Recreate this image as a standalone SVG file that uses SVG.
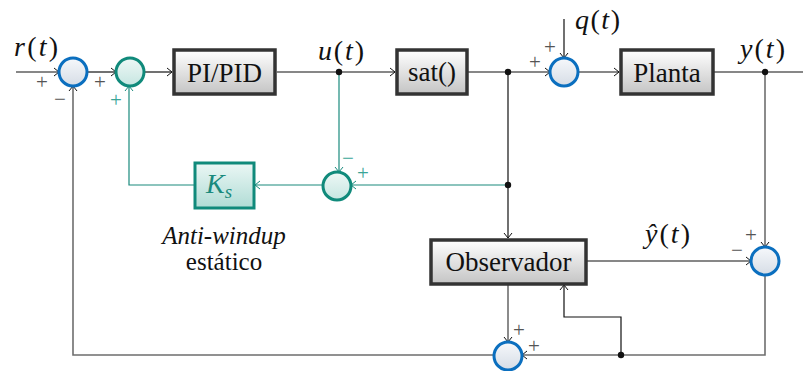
<svg xmlns="http://www.w3.org/2000/svg" width="803" height="371" viewBox="0 0 803 371" font-family="'Liberation Serif', serif">
<defs>
<linearGradient id="gb" x1="0" y1="0" x2="0" y2="1"><stop offset="0" stop-color="#ffffff"/><stop offset="1" stop-color="#c4c4c4"/></linearGradient>
<linearGradient id="gs" x1="0" y1="0" x2="0" y2="1"><stop offset="0" stop-color="#f6f8fb"/><stop offset="1" stop-color="#d6dde6"/></linearGradient>
<linearGradient id="gt" x1="0" y1="0" x2="0" y2="1"><stop offset="0" stop-color="#eef8f6"/><stop offset="1" stop-color="#c6e6e1"/></linearGradient>
<linearGradient id="gk" x1="0" y1="0" x2="0" y2="1"><stop offset="0" stop-color="#ebf7f5"/><stop offset="1" stop-color="#b0dcd5"/></linearGradient>
<marker id="a" markerWidth="8" markerHeight="10" refX="6" refY="5" orient="auto" markerUnits="userSpaceOnUse"><path d="M1,1 L6,5 L1,9" fill="none" stroke="#111" stroke-width="1"/></marker>
<marker id="at" markerWidth="8" markerHeight="10" refX="6" refY="5" orient="auto" markerUnits="userSpaceOnUse"><path d="M1,1 L6,5 L1,9" fill="none" stroke="#1a8a7d" stroke-width="1"/></marker>
</defs>
<style>
.ln{fill:none;stroke:#111;stroke-width:1.2}
.lg{fill:none;stroke:#6e6e6e;stroke-width:1.6}
.lt{fill:none;stroke:#1a8a7d;stroke-width:1.2}
.box{fill:url(#gb);stroke:#333;stroke-width:3.5}
.kbox{fill:url(#gk);stroke:#108a7b;stroke-width:3}
.sb{fill:url(#gs);stroke:#0b6fbf;stroke-width:3}
.st{fill:url(#gt);stroke:#108a7b;stroke-width:3}
.i{font-style:italic}
.dot{fill:#111}
</style>
<g id="connectors">
<path class="ln" d="M16,72 H59" marker-end="url(#a)"/>
<path class="ln" d="M87,72 H116" marker-end="url(#a)"/>
<path class="ln" d="M144,72 H172" marker-end="url(#a)"/>
<path class="ln" d="M277,72 H395" marker-end="url(#a)"/>
<path class="ln" d="M468,72 H550" marker-end="url(#a)"/>
<path class="ln" d="M564,19 V58" marker-end="url(#a)"/>
<path class="ln" d="M578,72 H619" marker-end="url(#a)"/>
<path class="ln" d="M714,72 H803"/>
<path class="lt" d="M339,72 V172" marker-end="url(#at)"/>
<path class="lt" d="M508,185 H351" marker-end="url(#at)"/>
<path class="lt" d="M323,185 H255" marker-end="url(#at)"/>
<path class="lt" d="M194,185 H129 V86" marker-end="url(#at)"/>
<path class="ln" d="M508,72 V238" marker-end="url(#a)"/>
<path class="ln" d="M587,261 H751" marker-end="url(#a)"/>
<path class="lg" d="M765,72 V247" marker-end="url(#a)"/>
<path class="lg" d="M765,275 V355 H522" marker-end="url(#a)"/>
<path class="ln" d="M621,355 V317 H564 V285" marker-end="url(#a)"/>
<path class="lg" d="M508,284 V342" marker-end="url(#a)"/>
<path class="lg" d="M494,355 H73 V86" marker-end="url(#a)"/>
<circle class="dot" cx="339" cy="72" r="3.2"/>
<circle class="dot" cx="508" cy="72" r="3.2"/>
<circle class="dot" cx="765" cy="72" r="3.2"/>
<circle class="dot" cx="508" cy="185" r="3.2"/>
<circle class="dot" cx="621" cy="355" r="3.2"/>
</g>
<g id="labels" fill="#111" font-size="28">
<text font-family="'Liberation Serif', serif" x="14" y="56" textLength="44"><tspan class="i">r</tspan>(<tspan class="i">t</tspan>)</text>
<text font-family="'Liberation Serif', serif" x="318" y="60" textLength="46"><tspan class="i">u</tspan>(<tspan class="i">t</tspan>)</text>
<text font-family="'Liberation Serif', serif" x="575" y="29" textLength="45"><tspan class="i">q</tspan>(<tspan class="i">t</tspan>)</text>
<text font-family="'Liberation Serif', serif" x="740" y="58" textLength="45"><tspan class="i">y</tspan>(<tspan class="i">t</tspan>)</text>
<text font-family="'Liberation Serif', serif" x="645" y="243" textLength="45"><tspan class="i">ŷ</tspan>(<tspan class="i">t</tspan>)</text>
<text font-family="'Liberation Serif', serif" x="224" y="244" font-size="25" text-anchor="middle" font-style="italic">Anti-windup</text>
<text font-family="'Liberation Serif', serif" x="224" y="270" font-size="25" text-anchor="middle">estático</text>
</g>
<g id="signs" font-size="21" fill="#555">
<text font-family="'Liberation Serif', serif" x="36" y="89">+</text>
<text font-family="'Liberation Serif', serif" x="54" y="106">−</text>
<text font-family="'Liberation Serif', serif" x="94" y="89">+</text>
<text font-family="'Liberation Serif', serif" x="110" y="107" fill="#3aa597">+</text>
<text font-family="'Liberation Serif', serif" x="529" y="69">+</text>
<text font-family="'Liberation Serif', serif" x="544" y="54">+</text>
<text font-family="'Liberation Serif', serif" x="342" y="165" fill="#3aa597">−</text>
<text font-family="'Liberation Serif', serif" x="357" y="180" fill="#3aa597">+</text>
<text font-family="'Liberation Serif', serif" x="731" y="257">−</text>
<text font-family="'Liberation Serif', serif" x="745" y="242">+</text>
<text font-family="'Liberation Serif', serif" x="513" y="337">+</text>
<text font-family="'Liberation Serif', serif" x="528" y="353">+</text>
</g>
<g id="sum1"><circle class="sb" cx="73" cy="72" r="14"/></g>
<g id="sum2"><circle class="st" cx="130" cy="72" r="14"/></g>
<g id="pid"><rect class="box" x="174" y="50" width="101" height="44"/><text font-family="'Liberation Serif', serif" font-size="27" fill="#111" x="224.5" y="82" text-anchor="middle">PI/PID</text></g>
<g id="sat"><rect class="box" x="397" y="50" width="70" height="44"/><text font-family="'Liberation Serif', serif" font-size="27" fill="#111" x="432" y="81" text-anchor="middle">sat()</text></g>
<g id="sum3"><circle class="sb" cx="564" cy="72" r="14"/></g>
<g id="planta"><rect class="box" x="621" y="50" width="92" height="44"/><text font-family="'Liberation Serif', serif" font-size="27" fill="#111" x="667" y="82" text-anchor="middle">Planta</text></g>
<g id="sum4"><circle class="st" cx="337" cy="186" r="14"/></g>
<g id="ks"><rect class="kbox" x="195" y="163" width="59" height="45"/><text font-family="'Liberation Serif', serif" font-size="28" fill="#1a8a7d" x="206" y="193"><tspan class="i">K</tspan><tspan class="i" font-size="19" dy="5">s</tspan></text></g>
<g id="observador"><rect class="box" x="431" y="240" width="155" height="44"/><text font-family="'Liberation Serif', serif" font-size="27" fill="#111" x="508.5" y="271" text-anchor="middle">Observador</text></g>
<g id="sum5"><circle class="sb" cx="765" cy="261" r="14"/></g>
<g id="sum6"><circle class="sb" cx="508" cy="356" r="14"/></g>
</svg>
